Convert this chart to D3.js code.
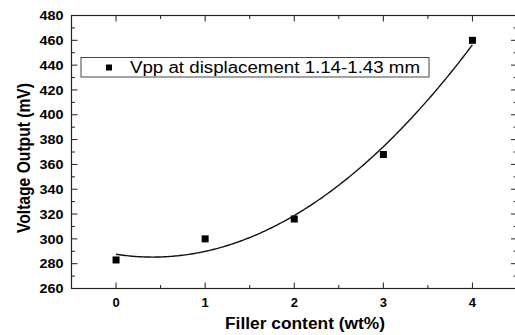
<!DOCTYPE html>
<html><head><meta charset="utf-8">
<script src="https://cdn.jsdelivr.net/npm/d3@7"></script>
<style>body{margin:0;background:#fff}svg{display:block}text{font-family:"Liberation Sans",Arial,sans-serif}</style>
</head><body><div id="chart"></div>
<script>
const fillerContent = [0, 1, 2, 3, 4];
const voltageOutput = [283, 300, 316, 368, 460];
const xTicks = [0, 1, 2, 3, 4];
const yTicks = [260, 280, 300, 320, 340, 360, 380, 400, 420, 440, 460, 480];
const seriesName = "Vpp at displacement 1.14-1.43 mm";
const xTitle = "Filler content (wt%)";
const yTitle = "Voltage Output (mV)";

const W = 515, H = 335;
const m = {left: 71.5, right: 515 - 517, top: 15.5, bottom: 335 - 288.5};
const svg = d3.select("#chart").append("svg").attr("width", W).attr("height", H);
const x = d3.scaleLinear().domain([-0.5, 4.5]).range([m.left, W - m.right]);
const y = d3.scaleLinear().domain([260, 480]).range([H - m.bottom, m.top]);

// quadratic least-squares fit of the data
function polyfit2(xs, ys) {
  const S = k => d3.sum(xs, v => Math.pow(v, k));
  const T = k => d3.sum(xs, (v, i) => Math.pow(v, k) * ys[i]);
  const A = [[S(0), S(1), S(2)], [S(1), S(2), S(3)], [S(2), S(3), S(4)]];
  const b = [T(0), T(1), T(2)];
  for (let i = 0; i < 3; i++) {
    for (let j = i + 1; j < 3; j++) {
      const f = A[j][i] / A[i][i];
      for (let k = i; k < 3; k++) A[j][k] -= f * A[i][k];
      b[j] -= f * b[i];
    }
  }
  const c = [0, 0, 0];
  for (let i = 2; i >= 0; i--) {
    let s = b[i];
    for (let k = i + 1; k < 3; k++) s -= A[i][k] * c[k];
    c[i] = s / A[i][i];
  }
  return c;
}
const coef = polyfit2(fillerContent, voltageOutput);
const fitX = d3.range(0, 4.0001, 0.02);
const fitPts = fitX.map(v => [v, coef[0] + coef[1] * v + coef[2] * v * v]);

const g = svg.append("g");
const x0 = x.range()[0], x1 = x.range()[1], y0 = y.range()[0], y1 = y.range()[1];

// ticks
const major = 6, minor = 3.5;
const xMinor = d3.range(-0.5, 4.51, 0.5).filter(v => !xTicks.includes(v));
const yMinor = d3.range(270, 480, 20);
xTicks.forEach(v => {
  g.append("line").attr("x1", x(v)).attr("x2", x(v)).attr("y1", y0).attr("y2", y0 - major).attr("stroke", "#222");
  g.append("line").attr("x1", x(v)).attr("x2", x(v)).attr("y1", y1).attr("y2", y1 + major).attr("stroke", "#222");
});
xMinor.forEach(v => {
  g.append("line").attr("x1", x(v)).attr("x2", x(v)).attr("y1", y0).attr("y2", y0 - minor).attr("stroke", "#222");
  g.append("line").attr("x1", x(v)).attr("x2", x(v)).attr("y1", y1).attr("y2", y1 + minor).attr("stroke", "#222");
});
yTicks.forEach(v => {
  g.append("line").attr("x1", x0).attr("x2", x0 + major).attr("y1", y(v)).attr("y2", y(v)).attr("stroke", "#222");
  g.append("line").attr("x1", x1).attr("x2", x1 - major).attr("y1", y(v)).attr("y2", y(v)).attr("stroke", "#222");
});
yMinor.forEach(v => {
  g.append("line").attr("x1", x0).attr("x2", x0 + minor).attr("y1", y(v)).attr("y2", y(v)).attr("stroke", "#222");
  g.append("line").attr("x1", x1).attr("x2", x1 - minor).attr("y1", y(v)).attr("y2", y(v)).attr("stroke", "#222");
});

// frame
g.append("rect").attr("x", x0).attr("y", y1).attr("width", x1 - x0).attr("height", y0 - y1)
  .attr("fill", "none").attr("stroke", "#222").attr("stroke-width", 1.2);

// tick labels
g.selectAll(".xl").data(xTicks).join("text").attr("x", d => x(d)).attr("y", y0 + 18)
  .attr("text-anchor", "middle").attr("font-size", 13).attr("font-weight", "bold").text(d => d);
g.selectAll(".yl").data(yTicks).join("text").attr("x", x0 - 8).attr("y", d => y(d) + 4.7)
  .attr("text-anchor", "end").attr("font-size", 13.5).attr("font-weight", "bold")
  .attr("textLength", 24).attr("lengthAdjust", "spacingAndGlyphs").text(d => d);

// titles
svg.append("text").attr("x", 305).attr("y", 329).attr("text-anchor", "middle")
  .attr("font-size", 16).attr("font-weight", "bold")
  .attr("textLength", 160).attr("lengthAdjust", "spacingAndGlyphs").text(xTitle);
svg.append("text").attr("transform", `translate(30,158) rotate(-90)`).attr("text-anchor", "middle")
  .attr("font-size", 17.5).attr("font-weight", "bold")
  .attr("textLength", 150).attr("lengthAdjust", "spacingAndGlyphs").text(yTitle);

// fit curve
g.append("path").datum(fitPts)
  .attr("d", d3.line().x(d => x(d[0])).y(d => y(d[1])))
  .attr("fill", "none").attr("stroke", "#111").attr("stroke-width", 1.4);

// points
const s = 7;
g.selectAll(".pt").data(fillerContent).join("rect")
  .attr("x", (d) => x(d) - s / 2).attr("y", (d, i) => y(voltageOutput[i]) - s / 2)
  .attr("width", s).attr("height", s).attr("fill", "#000");

// legend
const lg = svg.append("g");
lg.append("rect").attr("x", 81).attr("y", 57.5).attr("width", 348).attr("height", 19.5)
  .attr("fill", "#fff").attr("stroke", "#444").attr("stroke-width", 1);
lg.append("rect").attr("x", 106).attr("y", 64.5).attr("width", 6).attr("height", 6).attr("fill", "#000");
lg.append("text").attr("x", 130).attr("y", 73).attr("font-size", 16)
  .attr("textLength", 290).attr("lengthAdjust", "spacingAndGlyphs").text(seriesName);
</script></body></html>
